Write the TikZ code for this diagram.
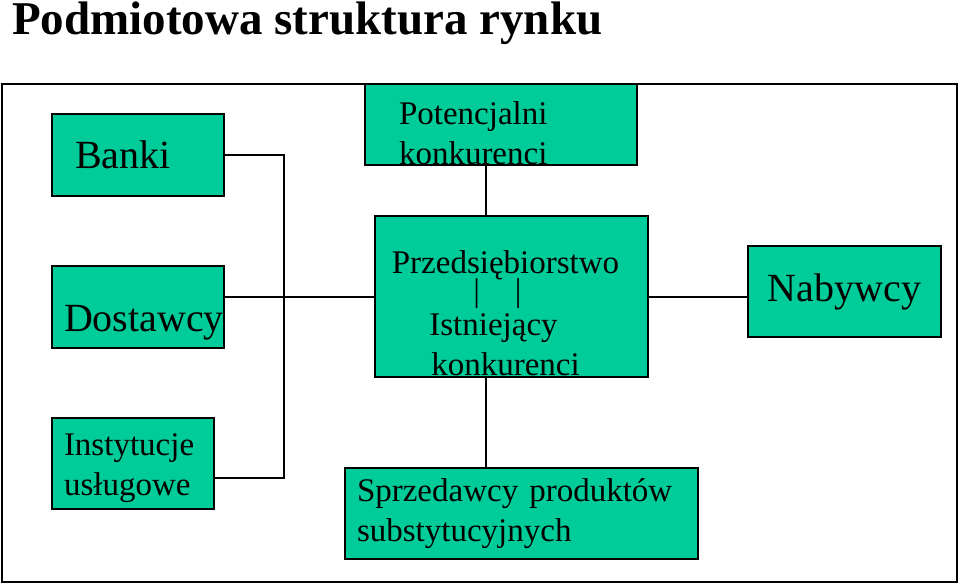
\documentclass[tikz,border=0pt]{standalone}
\usepackage{fontspec}
\setmainfont{Liberation Serif}
\definecolor{zielen}{RGB}{0,204,153}
\newcommand{\duze}{\fontsize{40}{48}\selectfont}
\newcommand{\male}{\fontsize{33}{40}\selectfont}

\begin{document}
\begin{tikzpicture}[x=1pt,y=-1pt,
    blok/.style={draw,rectangle,fill=zielen,line width=2pt,inner sep=0pt},
    linia/.style={line width=2pt}]
\useasboundingbox (0,0) rectangle (960,585);

    \node[anchor=base west,font=\bfseries\fontsize{47}{50}\selectfont,text height=31pt,inner sep=0pt] (tytul) at (12,35) {Podmiotowa struktura rynku};

    \draw[line width=2pt] (2,84) rectangle (957,582);


    \node[blok,minimum width=172pt,minimum height=82pt,text width=126pt,align=left,font=\duze] (banki) at (138,155) {Banki};
        \node[blok,minimum width=172pt,minimum height=82pt,text width=148pt,align=left,font=\duze,text height=48pt,text depth=0pt] (dost) at (138,307) {Dostawcy};
    \node[blok,minimum width=162pt,minimum height=91pt,text width=138pt,align=left,font=\male,text height=30pt,text depth=47pt] (inst) at (133,463.5) {Instytucje\\usługowe};


    \node[blok,minimum width=272pt,minimum height=81pt,text width=204pt,align=left,font=\male,text height=40pt,text depth=40pt] (potenc) at (501,124.5) {Potencjalni\\konkurenci};

    \node[blok,minimum width=273pt,minimum height=161pt,text width=260pt,align=center,font=\male,text height=55pt,text depth=102pt] (firma) at (511.5,296.5) {Przedsiębiorstwo\hspace{12pt}\mbox{}\\[-12pt]|\hspace{35pt}|\hspace{28pt}\mbox{}\\[-6pt]Istniejący\hspace{36pt}\mbox{}\\konkurenci\hspace{12pt}\mbox{}};

        \node[blok,minimum width=353pt,minimum height=91pt,text width=329pt,align=left,font=\male] (sprzed) at (521.5,513.5) {Sprzedawcy produktów\\substytucyjnych};

    \node[blok,minimum width=193pt,minimum height=91pt,align=center,font=\duze] (nab) at (844.5,291.5) {Nabywcy};

    %%%%%%%%%%POLACZENIA%%%%%%%%%%%%%%%%

    \coordinate (szyna) at (284,296.5);
    \coordinate (dol) at (284,478);
    \coordinate (os) at (486,0);

    \draw[linia] (banki.east) -| (szyna) -- (dol) -- (dol -| inst.east);
    \draw[linia] (firma.west) -- (firma.west -| dost.east);
    \draw[linia] (firma.east) -- (firma.east -| nab.west);

    \draw[linia] (potenc.south -| os) -- (firma.north -| os);
    \draw[linia] (firma.south -| os) -- (sprzed.north -| os);

  %  \draw[linia] (szyna) to (firma);
\end{tikzpicture}
\end{document}
